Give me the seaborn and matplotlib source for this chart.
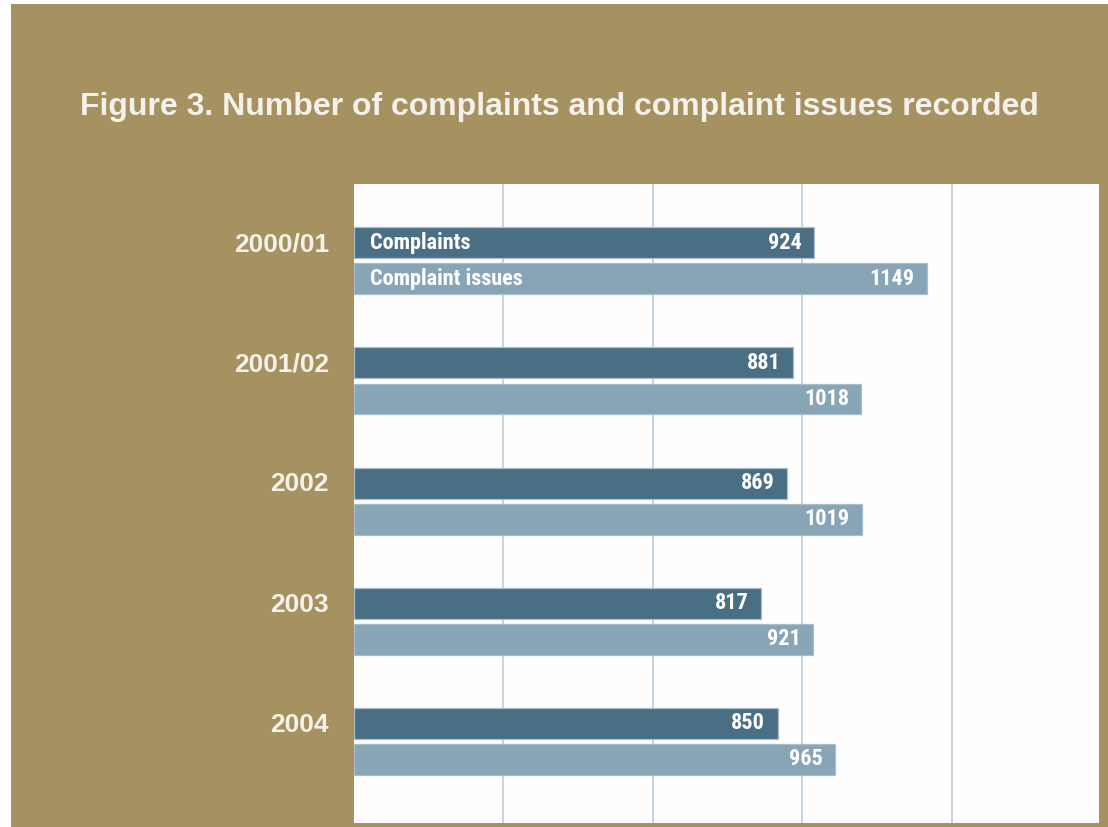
import matplotlib
matplotlib.use("Agg")
import matplotlib.pyplot as plt
from matplotlib.patches import Rectangle
from matplotlib import font_manager
import seaborn as sns
import pandas as pd

# Data
years = ["2000/01", "2001/02", "2002", "2003", "2004"]
complaints = [924, 881, 869, 817, 850]
complaint_issues = [1149, 1018, 1019, 921, 965]
series_names = ["Complaints", "Complaint issues"]
grid_ticks = [300, 600, 900, 1200]

GOLD = "#A69260"
DARK = "#4A6F84"
LIGHT = "#87A5B6"
TEXT = "#F4F1EA"
GRID = "#C5D3DF"

sns.set_theme(style="white")
plt.rcParams["font.family"] = ["Liberation Sans", "DejaVu Sans"]


def condensed_font():
    """Pick an installed bold condensed sans face, if there is one."""
    wanted = ["Liberation Sans Narrow", "Arial Narrow", "Roboto Condensed",
              "Noto Sans Condensed", "Open Sans Condensed", "DejaVu Sans Condensed"]
    names = {f.name for f in font_manager.fontManager.ttflist}
    for w in wanted:
        if w in names:
            return dict(family=[w, "DejaVu Sans"]), 16
    for pref in ["Noto Sans", "Roboto", "Open Sans", "DejaVu Sans"]:
        for f in font_manager.fontManager.ttflist:
            st = str(f.stretch)
            if f.name == pref and ("condensed" in st or (st.isdigit() and int(st) < 500)):
                return dict(family=[pref], fontstretch="condensed"), 15.3
    return dict(family=["Liberation Sans", "DejaVu Sans"]), 14.5


NARROW, NARROW_SIZE = condensed_font()

df = pd.DataFrame({
    "year": years * 2,
    "value": complaints + complaint_issues,
    "series": [series_names[0]] * len(years) + [series_names[1]] * len(years),
})

W, H = 1108, 827
fig = plt.figure(figsize=(W / 100, H / 100), dpi=100, facecolor="white")
fig.patches.append(Rectangle((11 / W, 0), 1 - 11 / W, 1 - 4 / H,
                             transform=fig.transFigure, facecolor=GOLD,
                             edgecolor="none", zorder=-10))

ax = fig.add_axes([354 / W, 4 / H, (1099 - 354) / W, (823 - 184) / H])
ax.set_facecolor("#FEFEFE")

sns.barplot(data=df, y="year", x="value", hue="series", order=years,
            hue_order=series_names, palette=[DARK, LIGHT], saturation=1,
            orient="h", width=0.6, gap=0.14, linewidth=0.9,
            edgecolor="#A9BDCA", legend=False, ax=ax)

ax.set_xlim(0, 1495)
ax.set_ylim(4.68, -0.64)
ax.set_xticks(grid_ticks)
ax.set_xticklabels([])
ax.set_yticklabels([])
ax.xaxis.grid(True, color=GRID, linewidth=1.4)
ax.yaxis.grid(False)
ax.set_axisbelow(True)
ax.tick_params(axis="both", length=0)
ax.set_xlabel("")
ax.set_ylabel("")
for s in ax.spines.values():
    s.set_visible(False)

# Year labels sit level with the complaints bar of each pair
for year, patch in zip(years, ax.containers[0].patches):
    yc = patch.get_y() + patch.get_height() / 2
    ax.annotate(year, xy=(0, yc), xycoords=ax.get_yaxis_transform(),
                xytext=(-18, -1), textcoords="offset points", ha="right",
                va="center", color=TEXT, fontsize=19, fontweight="bold")

# Value labels inside the bar ends, series names inside the first pair
for cont, vals, name in zip(ax.containers, [complaints, complaint_issues], series_names):
    for i, (patch, v) in enumerate(zip(cont.patches, vals)):
        yc = patch.get_y() + patch.get_height() / 2
        ax.annotate(f"{v}", xy=(v, yc), xytext=(-9, 0), textcoords="offset points",
                    ha="right", va="center", color="white", fontsize=NARROW_SIZE,
                    fontweight="bold", **NARROW)
        if i == 0:
            ax.annotate(name, xy=(0, yc), xytext=(11.5, 0), textcoords="offset points",
                        ha="left", va="center", color="white", fontsize=NARROW_SIZE,
                        fontweight="bold", **NARROW)

fig.text(559 / W, 1 - 107 / H, "Figure 3. Number of complaints and complaint issues recorded",
         ha="center", va="center", color=TEXT, fontsize=23, fontweight="bold")

fig.savefig("out.png", dpi=100, facecolor="white")
